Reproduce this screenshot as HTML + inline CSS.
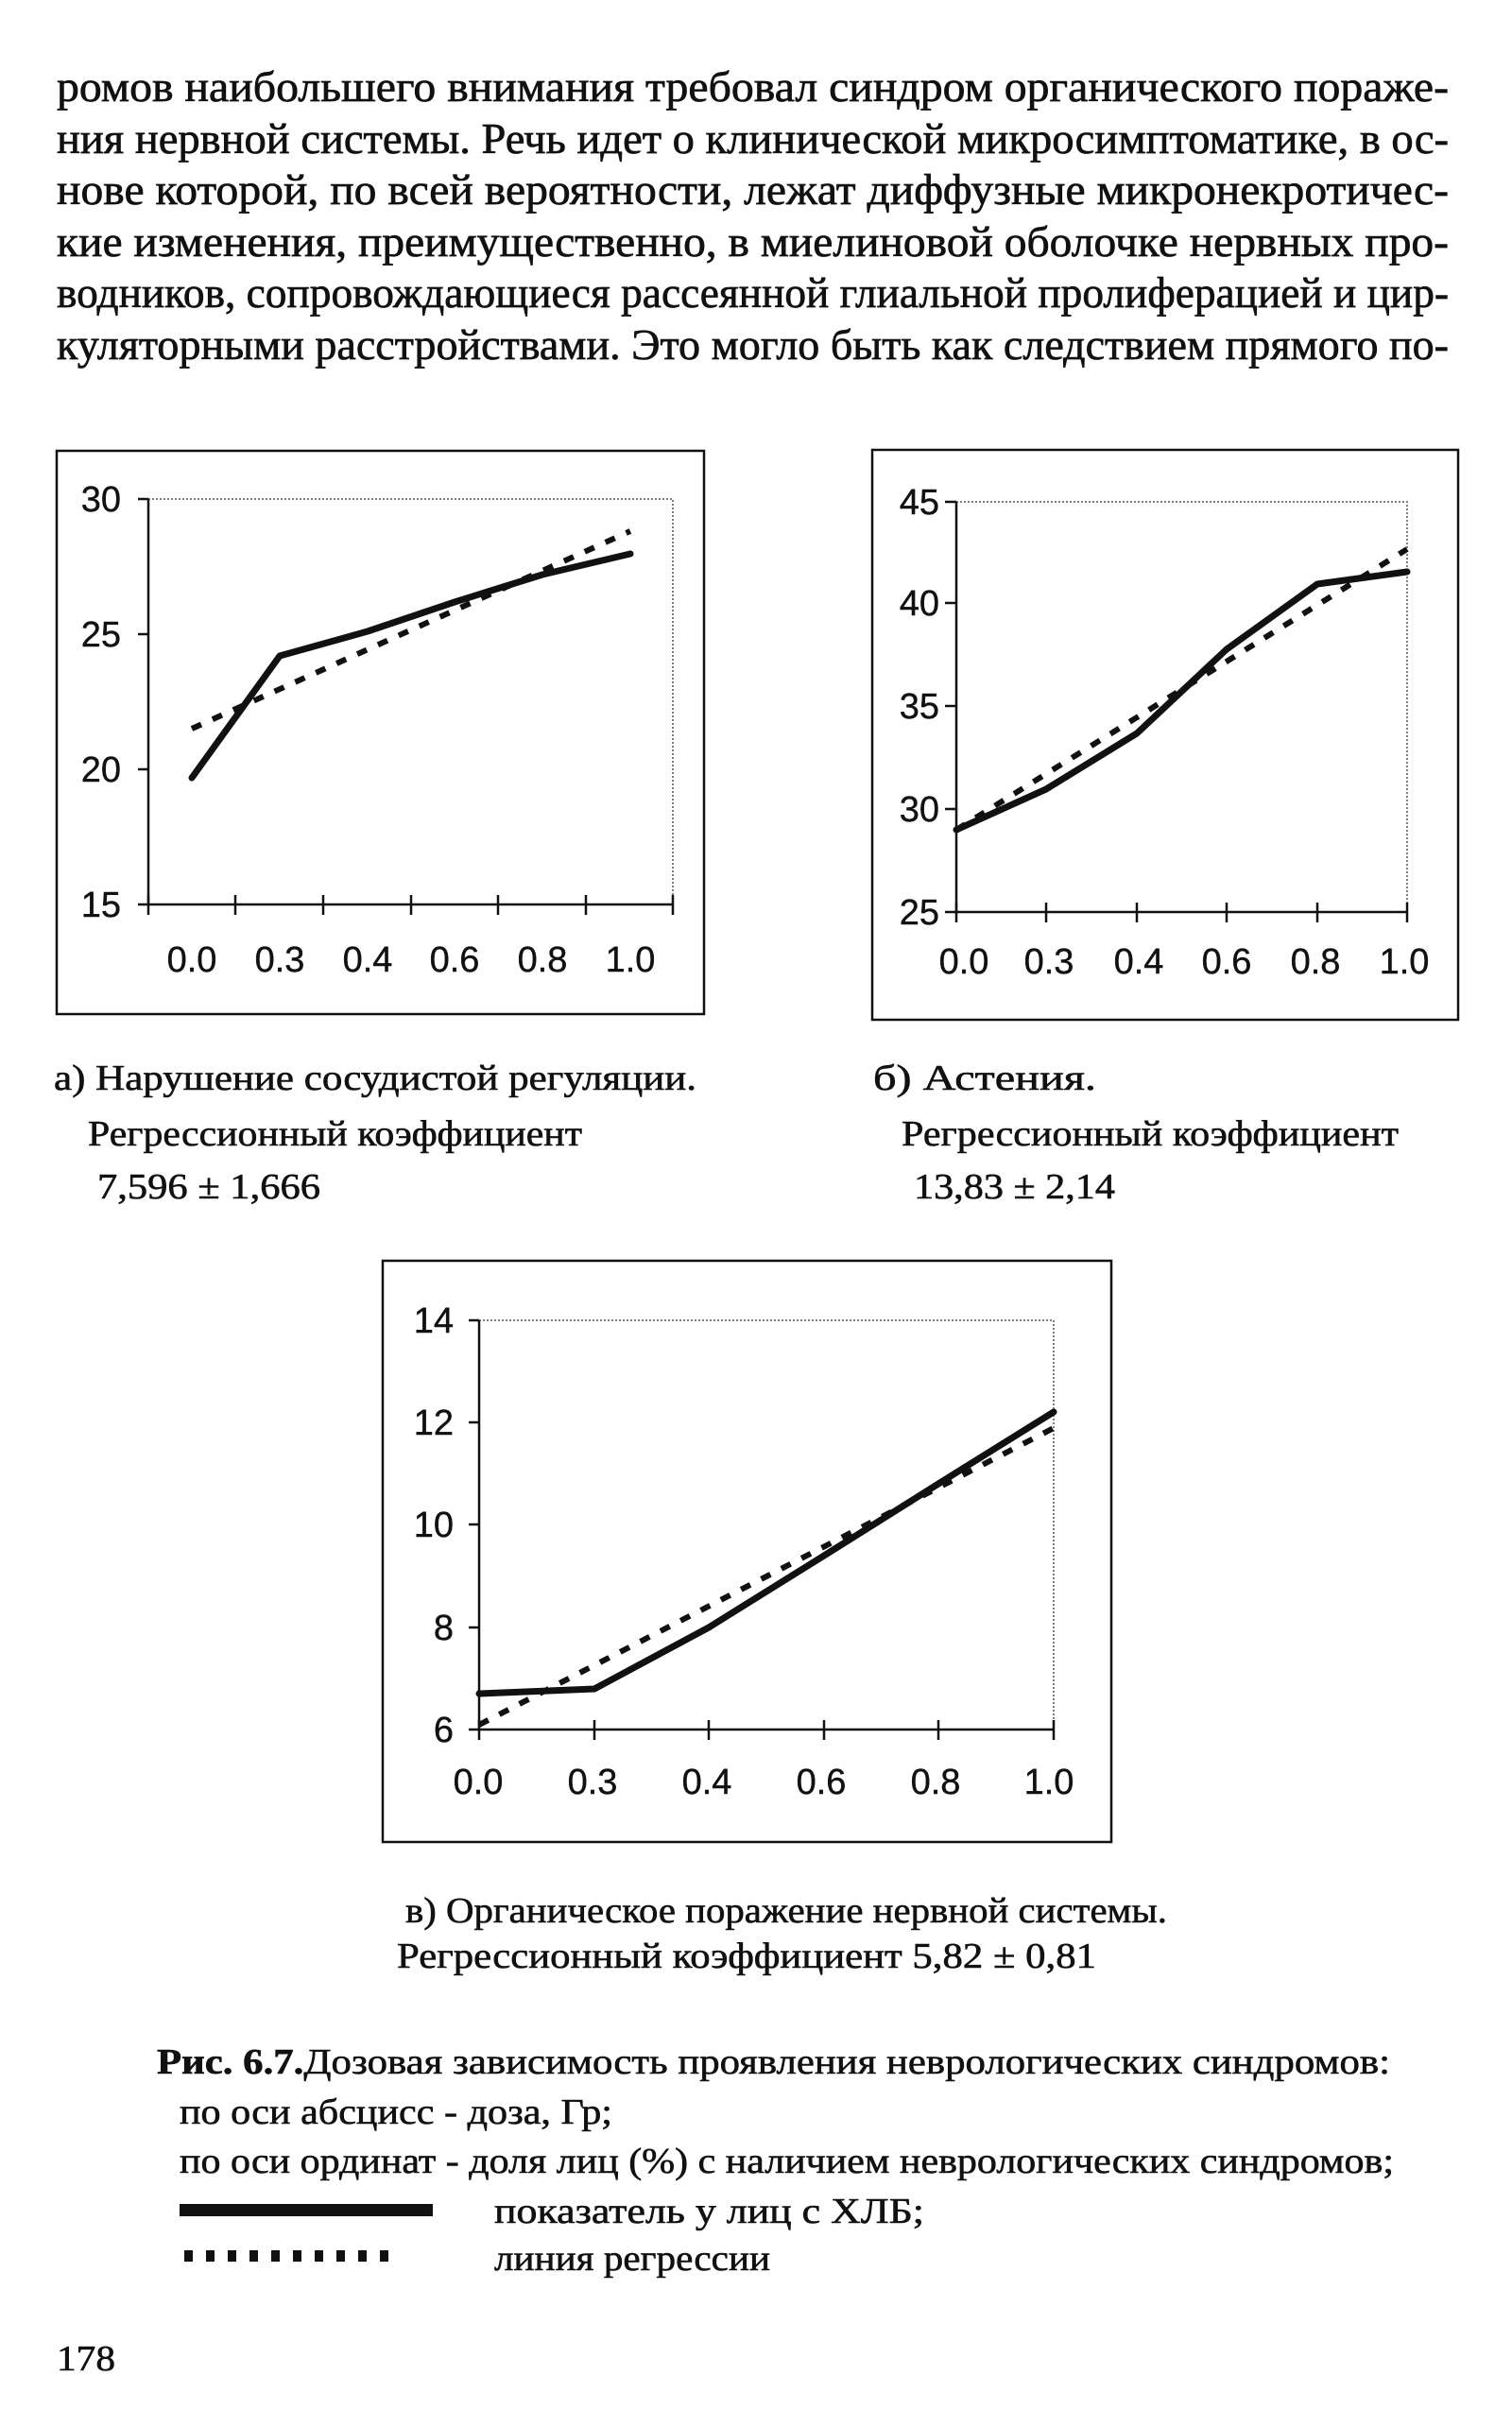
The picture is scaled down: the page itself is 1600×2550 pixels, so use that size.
<!DOCTYPE html>
<html><head><meta charset="utf-8"><style>
html,body{margin:0;padding:0;background:#fff;width:1600px;height:2550px;overflow:hidden}
svg{display:block}
.b{font-family:"Liberation Serif",serif;font-size:46px;fill:#111;stroke:#111;stroke-width:0.7}
.c{font-family:"Liberation Serif",serif;font-size:38px;fill:#111;stroke:#111;stroke-width:0.6}
.t{font-family:"Liberation Sans",sans-serif;font-size:38px;fill:#111;stroke:#111;stroke-width:0.4}
</style></head><body>
<svg width="1600" height="2550" viewBox="0 0 1600 2550" xmlns="http://www.w3.org/2000/svg">
<g class="b">
<text x="60" y="107" textLength="1473" lengthAdjust="spacingAndGlyphs">ромов наибольшего внимания требовал синдром органического пораже-</text>
<text x="60" y="162" textLength="1473" lengthAdjust="spacingAndGlyphs">ния нервной системы. Речь идет о клинической микросимптоматике, в ос-</text>
<text x="60" y="216" textLength="1473" lengthAdjust="spacingAndGlyphs">нове которой, по всей вероятности, лежат диффузные микронекротичес-</text>
<text x="60" y="271" textLength="1473" lengthAdjust="spacingAndGlyphs">кие изменения, преимущественно, в миелиновой оболочке нервных про-</text>
<text x="60" y="325" textLength="1473" lengthAdjust="spacingAndGlyphs">водников, сопровождающиеся рассеянной глиальной пролиферацией и цир-</text>
<text x="60" y="380" textLength="1473" lengthAdjust="spacingAndGlyphs">куляторными расстройствами. Это могло быть как следствием прямого по-</text>
</g>

<!-- Chart A -->
<rect x="60" y="477" width="685" height="596" fill="none" stroke="#111" stroke-width="2.5"/>
<polyline points="157,528 712,528 712,957" fill="none" stroke="#555" stroke-width="1.5" stroke-dasharray="2,2"/>
<line x1="157" y1="528" x2="157" y2="957" stroke="#111" stroke-width="2.5"/>
<line x1="146" y1="957" x2="712" y2="957" stroke="#111" stroke-width="2.5"/>
<g stroke="#111" stroke-width="2.5">
<line x1="146" y1="528" x2="157" y2="528"/><line x1="146" y1="671" x2="157" y2="671"/><line x1="146" y1="814" x2="157" y2="814"/>
<line x1="157" y1="947" x2="157" y2="968"/><line x1="249" y1="947" x2="249" y2="968"/><line x1="342" y1="947" x2="342" y2="968"/><line x1="435" y1="947" x2="435" y2="968"/><line x1="527" y1="947" x2="527" y2="968"/><line x1="620" y1="947" x2="620" y2="968"/><line x1="712" y1="947" x2="712" y2="968"/>
</g>
<g class="t" text-anchor="end">
<text x="128" y="541">30</text><text x="128" y="684">25</text><text x="128" y="827">20</text><text x="128" y="970">15</text>
</g>
<g class="t" text-anchor="middle">
<text x="203" y="1028">0.0</text><text x="296" y="1028">0.3</text><text x="389" y="1028">0.4</text><text x="481" y="1028">0.6</text><text x="574" y="1028">0.8</text><text x="667" y="1028">1.0</text>
</g>
<line x1="203" y1="771" x2="667" y2="562" stroke="#111" stroke-width="6" stroke-dasharray="11,13"/>
<polyline points="203,823 296,694 389,668 481,637 574,608 667,586" fill="none" stroke="#111" stroke-width="7" stroke-linejoin="round" stroke-linecap="round"/>

<!-- Chart B -->
<rect x="923" y="476" width="620" height="603" fill="none" stroke="#111" stroke-width="2.5"/>
<polyline points="1012,531 1489,531 1489,965" fill="none" stroke="#555" stroke-width="1.5" stroke-dasharray="2,2"/>
<line x1="1012" y1="531" x2="1012" y2="965" stroke="#111" stroke-width="2.5"/>
<line x1="1000" y1="965" x2="1489" y2="965" stroke="#111" stroke-width="2.5"/>
<g stroke="#111" stroke-width="2.5">
<line x1="1000" y1="531" x2="1012" y2="531"/><line x1="1000" y1="638" x2="1012" y2="638"/><line x1="1000" y1="747" x2="1012" y2="747"/><line x1="1000" y1="856" x2="1012" y2="856"/>
<line x1="1012" y1="955" x2="1012" y2="976"/><line x1="1107" y1="955" x2="1107" y2="976"/><line x1="1203" y1="955" x2="1203" y2="976"/><line x1="1298" y1="955" x2="1298" y2="976"/><line x1="1394" y1="955" x2="1394" y2="976"/><line x1="1489" y1="955" x2="1489" y2="976"/>
</g>
<g class="t" text-anchor="end">
<text x="994" y="544">45</text><text x="994" y="651">40</text><text x="994" y="760">35</text><text x="994" y="869">30</text><text x="994" y="978">25</text>
</g>
<g class="t" text-anchor="middle">
<text x="1020" y="1030">0.0</text><text x="1110" y="1030">0.3</text><text x="1205" y="1030">0.4</text><text x="1298" y="1030">0.6</text><text x="1392" y="1030">0.8</text><text x="1486" y="1030">1.0</text>
</g>
<line x1="1012" y1="878" x2="1489" y2="581" stroke="#111" stroke-width="6" stroke-dasharray="11,13"/>
<polyline points="1012,878 1107,835 1203,776 1298,687 1394,618 1489,605" fill="none" stroke="#111" stroke-width="7" stroke-linejoin="round" stroke-linecap="round"/>

<!-- captions a/b -->
<g class="c">
<text x="57" y="1153" textLength="680" lengthAdjust="spacingAndGlyphs">а) Нарушение сосудистой регуляции.</text>
<text x="93" y="1212" textLength="523" lengthAdjust="spacingAndGlyphs">Регрессионный коэффициент</text>
<text x="103" y="1268" textLength="236" lengthAdjust="spacingAndGlyphs">7,596 ± 1,666</text>
<text x="924" y="1153" textLength="236" lengthAdjust="spacingAndGlyphs">б) Астения.</text>
<text x="954" y="1212" textLength="526" lengthAdjust="spacingAndGlyphs">Регрессионный коэффициент</text>
<text x="967" y="1268" textLength="213" lengthAdjust="spacingAndGlyphs">13,83 ± 2,14</text>
</g>

<!-- Chart C -->
<rect x="405" y="1334" width="771" height="615" fill="none" stroke="#111" stroke-width="2.5"/>
<polyline points="507,1397 1115,1397 1115,1830" fill="none" stroke="#555" stroke-width="1.5" stroke-dasharray="2,2"/>
<line x1="507" y1="1397" x2="507" y2="1830" stroke="#111" stroke-width="2.5"/>
<line x1="496" y1="1830" x2="1115" y2="1830" stroke="#111" stroke-width="2.5"/>
<g stroke="#111" stroke-width="2.5">
<line x1="496" y1="1397" x2="507" y2="1397"/><line x1="496" y1="1505" x2="507" y2="1505"/><line x1="496" y1="1613" x2="507" y2="1613"/><line x1="496" y1="1722" x2="507" y2="1722"/>
<line x1="507" y1="1820" x2="507" y2="1841"/><line x1="629" y1="1820" x2="629" y2="1841"/><line x1="750" y1="1820" x2="750" y2="1841"/><line x1="872" y1="1820" x2="872" y2="1841"/><line x1="993" y1="1820" x2="993" y2="1841"/><line x1="1115" y1="1820" x2="1115" y2="1841"/>
</g>
<g class="t" text-anchor="end">
<text x="480" y="1410">14</text><text x="480" y="1518">12</text><text x="480" y="1626">10</text><text x="480" y="1735">8</text><text x="480" y="1843">6</text>
</g>
<g class="t" text-anchor="middle">
<text x="506" y="1898">0.0</text><text x="627" y="1898">0.3</text><text x="748" y="1898">0.4</text><text x="869" y="1898">0.6</text><text x="990" y="1898">0.8</text><text x="1110" y="1898">1.0</text>
</g>
<line x1="507" y1="1825" x2="1115" y2="1511" stroke="#111" stroke-width="6" stroke-dasharray="11,13"/>
<polyline points="507,1792 629,1787 750,1722 872,1646 993,1570 1115,1494" fill="none" stroke="#111" stroke-width="7" stroke-linejoin="round" stroke-linecap="round"/>

<g class="c">
<text x="429" y="2034" textLength="806" lengthAdjust="spacingAndGlyphs">в) Органическое поражение нервной системы.</text>
<text x="420" y="2082" textLength="740" lengthAdjust="spacingAndGlyphs">Регрессионный коэффициент 5,82 ± 0,81</text>
<text x="166" y="2194" textLength="1305" lengthAdjust="spacingAndGlyphs"><tspan font-weight="bold">Рис. 6.7.</tspan>Дозовая зависимость проявления неврологических синдромов:</text>
<text x="190" y="2247" textLength="458" lengthAdjust="spacingAndGlyphs">по оси абсцисс - доза, Гр;</text>
<text x="190" y="2299" textLength="1285" lengthAdjust="spacingAndGlyphs">по оси ординат - доля лиц (%) с наличием неврологических синдромов;</text>
<text x="523" y="2352" textLength="455" lengthAdjust="spacingAndGlyphs">показатель у лиц с ХЛБ;</text>
<text x="523" y="2402" textLength="292" lengthAdjust="spacingAndGlyphs">линия регрессии</text>
<text x="60" y="2508" textLength="62" lengthAdjust="spacingAndGlyphs">178</text>
</g>
<rect x="190" y="2332" width="268" height="13" fill="#111"/>
<line x1="195" y1="2387" x2="424" y2="2387" stroke="#111" stroke-width="12" stroke-dasharray="9,14"/>
</svg>
</body></html>
